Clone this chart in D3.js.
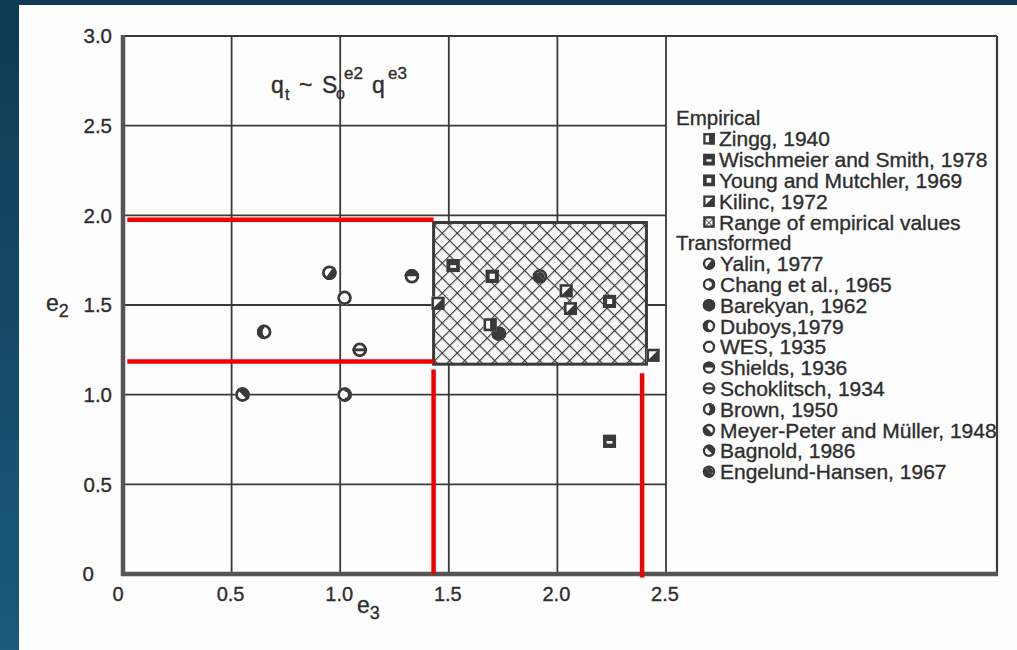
<!DOCTYPE html>
<html><head><meta charset="utf-8">
<script src="https://cdn.jsdelivr.net/npm/d3@7"></script>
<style>body{margin:0;background:#fff;} svg{display:block;}</style>
</head><body>
<svg id="chart" width="1017" height="650"></svg>
<script>
// ---------- data ----------
const xTickValues = [0, 0.5, 1.0, 1.5, 2.0, 2.5];
const xTickLabels = ["0", "0.5", "1.0", "1.5", "2.0", "2.5"];
const yTickValues = [0, 0.5, 1.0, 1.5, 2.0, 2.5, 3.0];
const yTickLabels = ["0", "0.5", "1.0", "1.5", "2.0", "2.5", "3.0"];

const empiricalNames = ["Zingg, 1940", "Wischmeier and Smith, 1978", "Young and Mutchler, 1969", "Kilinc, 1972"];
const empiricalTypes = ["zingg", "wisch", "young", "kilinc"];
const empiricalE3 = [[1.69], [1.52, 2.24], [1.70, 2.24], [1.45, 2.04, 2.06, 2.44]];
const empiricalE2 = [[1.39], [1.72, 0.74], [1.66, 1.52], [1.51, 1.58, 1.48, 1.22]];

const transformedNames = ["Yalin, 1977", "Chang et al., 1965", "Barekyan, 1962", "Duboys,1979", "WES, 1935",
  "Shields, 1936", "Schoklitsch, 1934", "Brown, 1950", "Meyer-Peter and Müller, 1948", "Bagnold, 1986", "Engelund-Hansen, 1967"];
const transformedTypes = ["yalin", "chang", "barekyan", "duboys", "wes", "shields", "schok", "brown", "meyer", "bagnold", "engelund"];
const transformedE3 = [[0.95], [1.02], [1.73], [0.65], [1.02], [1.33], [1.09], [], [], [0.55], [1.92]];
const transformedE2 = [[1.68], [1.00], [1.34], [1.35], [1.54], [1.66], [1.25], [], [], [1.00], [1.66]];

const rangeE3 = [1.43, 2.41];
const rangeE2 = [1.17, 1.96];

// red guide lines (annotation)
const redHorizE2 = [1.975, 1.185];
const redHorizE3From = [0.02, 0.02];
const redHorizE3To = [1.43, 1.43];
const redVertE3 = [1.43, 2.39];
const redVertE2From = [1.14, 1.12];
const redVertE2To = [0.0, -0.02];

// ---------- setup ----------
const svg = d3.select("#chart");
const W = 1017, H = 650;
const x = d3.scaleLinear().domain([0, 2.5]).range([123, 666]);
const y = d3.scaleLinear().domain([0, 3]).range([574, 36]);
const frameRight = 997;
const ink = "#3a3a3a";
const font = "'Liberation Sans', Arial, sans-serif";
const textInk = "#2e2e2e";

const defs = svg.append("defs");
const grad = defs.append("linearGradient").attr("id", "blueg").attr("x1", 0).attr("y1", 0).attr("x2", 0).attr("y2", 1);
grad.append("stop").attr("offset", "0%").attr("stop-color", "#0f3a53");
grad.append("stop").attr("offset", "100%").attr("stop-color", "#1a5a7a");

const hatch = defs.append("pattern").attr("id", "hatch").attr("patternUnits", "userSpaceOnUse")
  .attr("width", 10.6).attr("height", 10.6).attr("patternTransform", "rotate(45)");
hatch.append("rect").attr("width", 10.6).attr("height", 10.6).attr("fill", "#f7f7f7");
hatch.append("line").attr("x1", 0).attr("y1", 0).attr("x2", 0).attr("y2", 10.6).attr("stroke", ink).attr("stroke-width", 2.3);
hatch.append("line").attr("x1", 0).attr("y1", 0).attr("x2", 10.6).attr("y2", 0).attr("stroke", ink).attr("stroke-width", 2.3);

const hatchS = defs.append("pattern").attr("id", "hatchS").attr("patternUnits", "userSpaceOnUse")
  .attr("width", 5).attr("height", 5).attr("patternTransform", "rotate(45)");
hatchS.append("rect").attr("width", 5).attr("height", 5).attr("fill", "#f7f7f7");
hatchS.append("line").attr("x1", 0).attr("y1", 0).attr("x2", 0).attr("y2", 5).attr("stroke", ink).attr("stroke-width", 1.5);
hatchS.append("line").attr("x1", 0).attr("y1", 0).attr("x2", 5).attr("y2", 0).attr("stroke", ink).attr("stroke-width", 1.5);

defs.append("clipPath").attr("id", "legclip").append("rect")
  .attr("x", x(2.5)).attr("y", y(3)).attr("width", frameRight - x(2.5) - 1).attr("height", y(0) - y(3));

// background
svg.append("rect").attr("width", W).attr("height", H).attr("fill", "#fdfdfd");
svg.append("rect").attr("x", 0).attr("y", 0).attr("width", 19).attr("height", H).attr("fill", "url(#blueg)");
svg.append("rect").attr("x", 0).attr("y", 0).attr("width", W).attr("height", 5).attr("fill", "#0f3a53");

// grid
const grid = svg.append("g");
grid.selectAll("line.v").data(xTickValues.filter(d => d > 0)).join("line").attr("class", "v")
  .attr("x1", d => x(d)).attr("x2", d => x(d)).attr("y1", y(3)).attr("y2", y(0))
  .attr("stroke", ink).attr("stroke-width", 1.8);
grid.selectAll("line.h").data(yTickValues.filter(d => d > 0)).join("line").attr("class", "h")
  .attr("x1", x(0)).attr("x2", x(2.5)).attr("y1", d => y(d)).attr("y2", d => y(d))
  .attr("stroke", ink).attr("stroke-width", 1.8);

// frame
svg.append("line").attr("x1", x(0)).attr("x2", frameRight).attr("y1", y(3)).attr("y2", y(3)).attr("stroke", ink).attr("stroke-width", 2);
svg.append("line").attr("x1", frameRight).attr("x2", frameRight).attr("y1", y(3)).attr("y2", y(0) + 2).attr("stroke", ink).attr("stroke-width", 2.2);
svg.append("line").attr("x1", x(0)).attr("x2", x(0)).attr("y1", y(3) - 1).attr("y2", y(0) + 2).attr("stroke", "#555").attr("stroke-width", 4.5);
svg.append("line").attr("x1", x(0) - 2).attr("x2", frameRight + 1).attr("y1", y(0)).attr("y2", y(0)).attr("stroke", "#555").attr("stroke-width", 4.5);

// range box
svg.append("rect").attr("x", x(rangeE3[0])).attr("y", y(rangeE2[1]))
  .attr("width", x(rangeE3[1]) - x(rangeE3[0])).attr("height", y(rangeE2[0]) - y(rangeE2[1]))
  .attr("fill", "url(#hatch)").attr("stroke", ink).attr("stroke-width", 3);

// ---------- markers ----------
const arc = d3.arc();
function half(g, r, a0) {
  g.append("path").attr("d", arc({innerRadius: 0, outerRadius: r, startAngle: a0, endAngle: a0 + Math.PI})).attr("fill", ink);
}
function circleMarker(g, type, r) {
  const sw = r * 0.38;
  g.append("circle").attr("r", r).attr("fill", "#fff");
  switch (type) {
    case "yalin": half(g, r, Math.PI * 0.2); break;
    case "chang": half(g, r, 0); g.append("circle").attr("r", r * 0.45).attr("fill", "#fff"); break;
    case "barekyan": g.append("circle").attr("r", r).attr("fill", ink); break;
    case "duboys": half(g, r, Math.PI); g.append("ellipse").attr("cx", r * 0.15).attr("rx", r * 0.35).attr("ry", r * 0.55).attr("fill", "#fff"); break;
    case "wes": g.append("circle").attr("r", r * 0.5).attr("fill", "#fff"); break;
    case "shields": half(g, r, -Math.PI / 2); break;
    case "schok": g.append("rect").attr("x", -r).attr("y", -r * 0.2).attr("width", 2 * r).attr("height", r * 0.4).attr("fill", ink); break;
    case "brown": half(g, r, 0); g.append("circle").attr("cx", -r * 0.2).attr("r", r * 0.35).attr("fill", "#fff"); break;
    case "meyer": half(g, r, Math.PI * 0.75); break;
    case "bagnold": half(g, r, -Math.PI * 0.25); break;
    case "engelund": half(g, r, Math.PI * 0.75); half(g, r * 0.6, -Math.PI * 0.25); break;
  }
  g.append("circle").attr("r", r - sw / 2).attr("fill", "none").attr("stroke", ink).attr("stroke-width", sw);
}
function squareMarker(g, type, s) {
  const h = s / 2, sw = s * 0.2;
  g.append("rect").attr("x", -h).attr("y", -h).attr("width", s).attr("height", s).attr("fill", "#fff");
  switch (type) {
    case "zingg":
      g.append("rect").attr("x", 0).attr("y", -h).attr("width", h).attr("height", s).attr("fill", ink); break;
    case "wisch":
      g.append("rect").attr("x", -h).attr("y", -h).attr("width", s).attr("height", s).attr("fill", ink);
      g.append("rect").attr("x", -h * 0.45).attr("y", -h * 0.05).attr("width", h * 0.9).attr("height", h * 0.4).attr("fill", "#fff"); break;
    case "young":
      g.append("rect").attr("x", -h).attr("y", -h).attr("width", s).attr("height", s).attr("fill", ink);
      g.append("rect").attr("x", -h * 0.4).attr("y", -h * 0.4).attr("width", h * 0.8).attr("height", h * 0.8).attr("fill", "#fff"); break;
    case "kilinc":
      g.append("path").attr("d", `M${h},${-h}L${h},${h}L${-h},${h}Z`).attr("fill", ink); break;
    case "range":
      g.append("rect").attr("x", -h).attr("y", -h).attr("width", s).attr("height", s).attr("fill", "url(#hatchS)"); break;
  }
  g.append("rect").attr("x", -h + sw / 2).attr("y", -h + sw / 2).attr("width", s - sw).attr("height", s - sw)
    .attr("fill", "none").attr("stroke", ink).attr("stroke-width", sw);
}

// plot points
const pts = svg.append("g");
transformedTypes.forEach((t, i) => {
  transformedE3[i].forEach((e3, j) => {
    const g = pts.append("g").attr("transform", `translate(${x(e3)},${y(transformedE2[i][j])})`);
    circleMarker(g, t, 7.3);
  });
});
empiricalTypes.forEach((t, i) => {
  empiricalE3[i].forEach((e3, j) => {
    const g = pts.append("g").attr("transform", `translate(${x(e3)},${y(empiricalE2[i][j])})`);
    squareMarker(g, t, 13);
  });
});

// red guide lines
const red = svg.append("g").attr("stroke", "#f20000").attr("stroke-width", 4.5);
redHorizE2.forEach((v, i) => {
  red.append("line").attr("x1", x(redHorizE3From[i])).attr("x2", x(redHorizE3To[i])).attr("y1", y(v)).attr("y2", y(v));
});
redVertE3.forEach((v, i) => {
  red.append("line").attr("x1", x(v)).attr("x2", x(v)).attr("y1", y(redVertE2From[i])).attr("y2", y(redVertE2To[i]));
});

// ---------- text ----------
const txt = svg.append("g").attr("font-family", font).attr("fill", textInk)
  .attr("stroke", textInk).attr("stroke-width", 0.35);
// y tick labels
txt.selectAll("text.yt").data(yTickValues).join("text").attr("class", "yt")
  .attr("x", d => d === 0 ? 94 : 112).attr("y", d => y(d)).attr("dy", "0.36em")
  .attr("text-anchor", "end").attr("font-size", 20.5).text((d, i) => yTickLabels[i]);
// x tick labels
txt.selectAll("text.xt").data(xTickValues).join("text").attr("class", "xt")
  .attr("x", d => d === 0 ? x(d) - 5 : x(d) - 1).attr("y", y(0) + 27)
  .attr("text-anchor", "middle").attr("font-size", 20).text((d, i) => xTickLabels[i]);

// axis labels
const e2 = txt.append("text").attr("x", 46).attr("y", y(1.5) + 6).attr("font-size", 23);
e2.append("tspan").text("e");
e2.append("tspan").attr("dy", 6).attr("font-size", 18).text("2");
const e3 = txt.append("text").attr("x", 357).attr("y", 613).attr("font-size", 23);
e3.append("tspan").text("e");
e3.append("tspan").attr("dy", 6).attr("font-size", 18).text("3");

// formula
const f = txt.append("g").attr("font-size", 23);
f.append("text").attr("x", 271).attr("y", 93).text("q");
f.append("text").attr("x", 285).attr("y", 100).attr("font-size", 16).text("t");
f.append("text").attr("x", 299).attr("y", 93).text("~");
f.append("text").attr("x", 322).attr("y", 93).text("S");
f.append("text").attr("x", 336).attr("y", 99).attr("font-size", 16).text("o");
f.append("text").attr("x", 344).attr("y", 79).attr("font-size", 17).text("e2");
f.append("text").attr("x", 372).attr("y", 93).text("q");
f.append("text").attr("x", 388).attr("y", 79).attr("font-size", 17).text("e3");

// legend
const leg = svg.append("g").attr("clip-path", "url(#legclip)").attr("font-family", font)
  .attr("fill", textInk).attr("font-size", 21);
const rowY = i => 118 + i * 20.8;
const legX = 676, mX = 709, tX = 719;
const legText = (xx, yy, s, fs) => leg.append("text").attr("x", xx).attr("y", yy).attr("dy", "0.36em")
  .attr("font-size", fs).attr("stroke", textInk).attr("stroke-width", 0.35).text(s);
legText(legX, rowY(0), "Empirical", 20.5);
const empRows = empiricalNames.concat(["Range of empirical values"]);
const empRowTypes = empiricalTypes.concat(["range"]);
empRows.forEach((n, i) => {
  const r = i + 1;
  squareMarker(leg.append("g").attr("transform", `translate(${mX},${rowY(r)})`), empRowTypes[i], 11.5);
  legText(tX, rowY(r), n, 21);
});
legText(legX, rowY(6), "Transformed", 20.5);
transformedNames.forEach((n, i) => {
  const r = i + 7;
  circleMarker(leg.append("g").attr("transform", `translate(${mX},${rowY(r)})`), transformedTypes[i], 6.2);
  legText(tX + 1, rowY(r), n, 21);
});
</script>
</body></html>
